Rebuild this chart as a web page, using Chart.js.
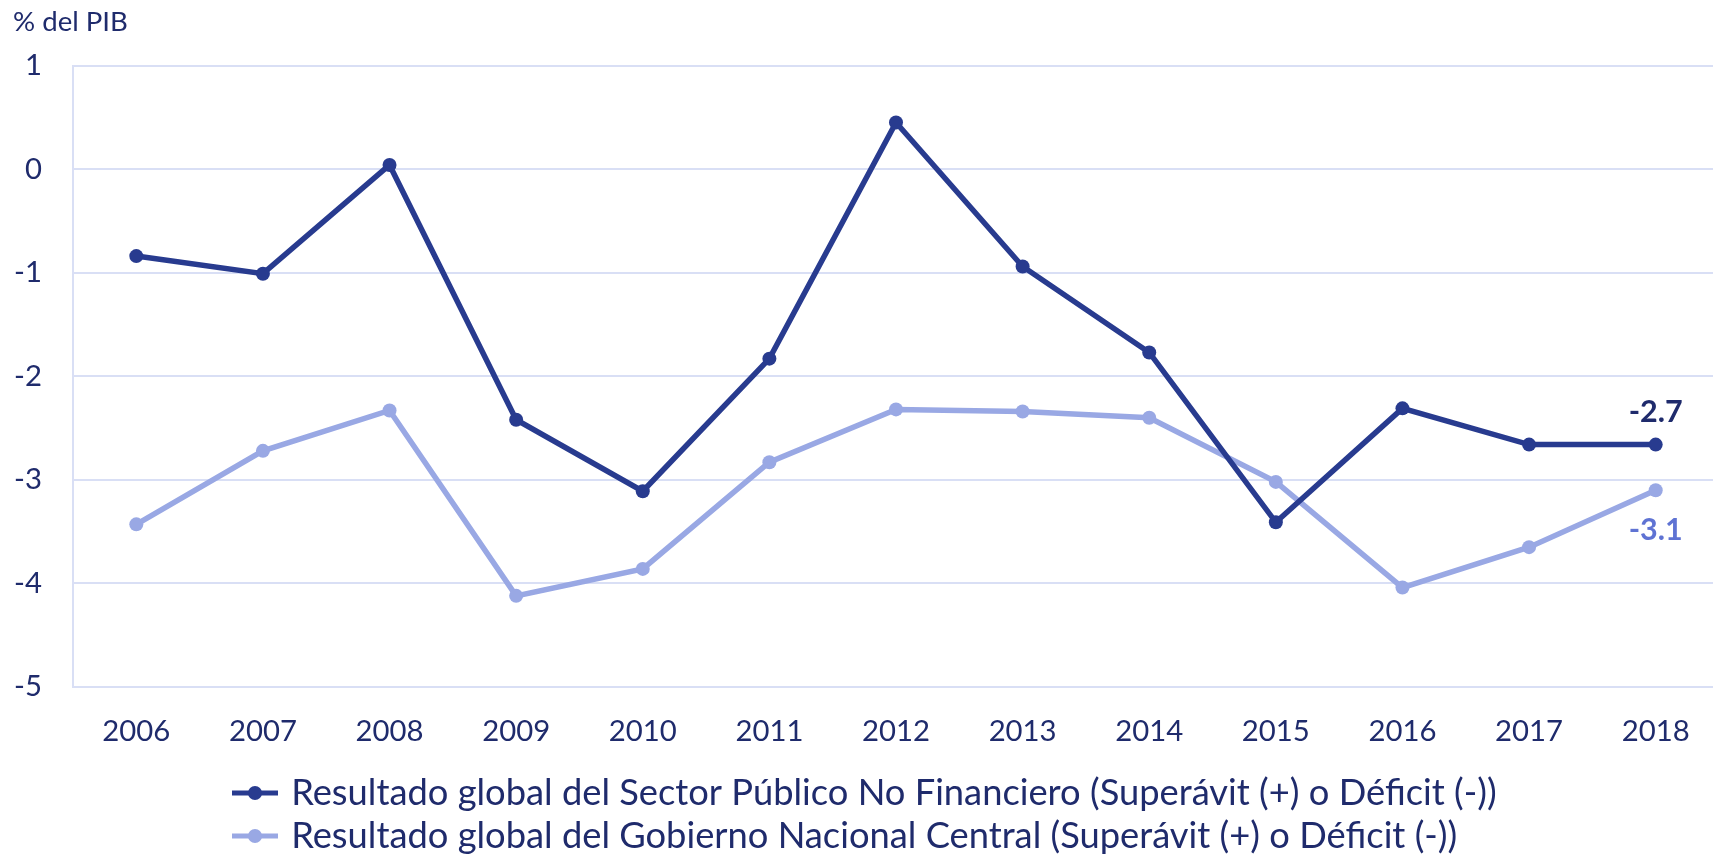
<!DOCTYPE html>
<html>
<head>
<meta charset="utf-8">
<script src="https://cdn.jsdelivr.net/npm/chart.js@4.4.1/dist/chart.umd.min.js"></script>
<style>
  html, body { margin: 0; padding: 0; background: #ffffff; overflow: hidden; }
  #wrap { width: 1726px; height: 880px; }
</style>
</head>
<body>
<div id="wrap"><canvas id="c" width="1726" height="880"></canvas></div>
<script>
const years = ['2006','2007','2008','2009','2010','2011','2012','2013','2014','2015','2016','2017','2018'];
const spnf = [-0.84, -1.01, 0.04, -2.42, -3.11, -1.83, 0.45, -0.94, -1.77, -3.41, -2.31, -2.66, -2.66];
const gnc  = [-3.43, -2.72, -2.33, -4.12, -3.86, -2.83, -2.32, -2.34, -2.40, -3.02, -4.04, -3.65, -3.10];
const seriesNames = [
  'Resultado global del Sector Público No Financiero (Superávit (+) o Déficit (-))',
  'Resultado global del Gobierno Nacional Central (Superávit (+) o Déficit (-))'
];
const yTitle = '% del PIB';

const DARK = '#283b8f';
const LIGHT = '#99a8e4';
const TEXT = '#1f2b6c';
const LABEL2 = '#5f73d3';
const GRID = '#d9dff5';
const FAMILY = 'Lato';
const FONT = 'Lato, "Open Sans", sans-serif';

// size fonts so text widths match the reference
const mctx = document.createElement('canvas').getContext('2d');
function fit(text, weight, target) {
  mctx.font = weight + ' 100px ' + FONT;
  return Math.round(1000 * target / mctx.measureText(text).width) / 10;
}
const fsTick = fit('2006', 'normal', 68);
const fsLegend = fit(seriesNames[0], 'normal', 1204);
const fsTitle = fit(yTitle, 'normal', 115);
const fsLabel = fit('-2.7', 'bold', 54);

// vertical layout targets
const CANVAS_H = 880;
const AREA_TOP = 65.5, AREA_BOTTOM = 687;
const ROW1 = 793, ROW_GAP = 43;
const legPad = ROW_GAP - fsLegend;
const legTop = ROW1 - legPad - fsLegend / 2;
const legHeight = 2 * ROW_GAP + 10;
const xAxisH = legTop - AREA_BOTTOM;
const padBottom = CANVAS_H - (legTop + legHeight);
const titleTopPad = 22.5 - fsTitle * 0.6;
const titleBottomPad = AREA_TOP - titleTopPad - fsTitle * 1.2;

function legendMarker(color) {
  const cv = document.createElement('canvas');
  cv.width = 46; cv.height = 16;
  const g = cv.getContext('2d');
  g.strokeStyle = color; g.lineWidth = 5;
  g.beginPath(); g.moveTo(0, 8); g.lineTo(46, 8); g.stroke();
  g.fillStyle = color;
  g.beginPath(); g.arc(23, 8, 7, 0, Math.PI * 2); g.fill();
  return cv;
}
const markers = [legendMarker(DARK), legendMarker(LIGHT)];

const endLabels = {
  id: 'endLabels',
  afterDatasetsDraw(chart) {
    const ctx = chart.ctx;
    const cfg = [{ dy: -32, color: TEXT }, { dy: 40, color: LABEL2 }];
    chart.data.datasets.forEach((ds, i) => {
      const meta = chart.getDatasetMeta(i);
      const last = meta.data[meta.data.length - 1];
      const v = ds.data[ds.data.length - 1];
      ctx.save();
      ctx.font = 'bold ' + fsLabel + 'px ' + FONT;
      ctx.fillStyle = cfg[i].color;
      ctx.textAlign = 'center';
      ctx.textBaseline = 'middle';
      ctx.fillText(v.toFixed(1), last.x, last.y + cfg[i].dy);
      ctx.restore();
    });
  }
};

const LEG_X0 = 237;
const legendPos = {
  id: 'legendPos',
  afterLayout(chart) {
    if (chart.legend) {
      const w = chart.legend.width;
      chart.legend.left = LEG_X0 - legPad;
      chart.legend.right = chart.legend.left + w;
    }
  }
};

new Chart(document.getElementById('c'), {
  type: 'line',
  data: {
    labels: years,
    datasets: [
      { label: seriesNames[0], data: spnf, borderColor: DARK, backgroundColor: DARK,
        borderWidth: 5.5, pointRadius: 7, pointBackgroundColor: DARK, pointBorderWidth: 0, tension: 0 },
      { label: seriesNames[1], data: gnc, borderColor: LIGHT, backgroundColor: LIGHT,
        borderWidth: 5.5, pointRadius: 7, pointBackgroundColor: LIGHT, pointBorderWidth: 0, tension: 0 }
    ]
  },
  options: {
    responsive: false,
    animation: false,
    devicePixelRatio: 1,
    layout: { padding: { left: 13, right: 0, top: 0, bottom: padBottom } },
    plugins: {
      title: {
        display: true, text: yTitle, align: 'start', color: TEXT,
        font: { family: FONT, size: fsTitle, weight: 'normal', lineHeight: 1.2 },
        padding: { top: titleTopPad, bottom: titleBottomPad }
      },
      legend: {
        position: 'bottom', align: 'start',
        labels: {
          color: TEXT, font: { family: FONT, size: fsLegend },
          usePointStyle: true, pointStyleWidth: 36, padding: legPad,
          generateLabels(chart) {
            return chart.data.datasets.map((ds, i) => ({
              text: ds.label, fillStyle: ds.borderColor, strokeStyle: ds.borderColor,
              lineWidth: 0, pointStyle: markers[i], datasetIndex: i, hidden: false, fontColor: TEXT
            }));
          }
        }
      },
      tooltip: { enabled: false }
    },
    scales: {
      x: {
        offset: true,
        afterFit(s) { s.height = xAxisH; },
        grid: { display: false, drawTicks: false },
        border: { display: false },
        ticks: { color: TEXT, font: { family: FONT, size: fsTick }, padding: 45 - 0.6 * fsTick, maxRotation: 0, autoSkip: false }
      },
      y: {
        min: -5, max: 1,
        afterFit(s) { s.width = 60; },
        grid: { color: GRID, lineWidth: 2, drawTicks: false },
        border: { display: true, color: GRID, width: 2 },
        ticks: { stepSize: 1, color: TEXT, font: { family: FONT, size: fsTick }, padding: 31 }
      }
    }
  },
  plugins: [endLabels, legendPos]
});
</script>
</body>
</html>
